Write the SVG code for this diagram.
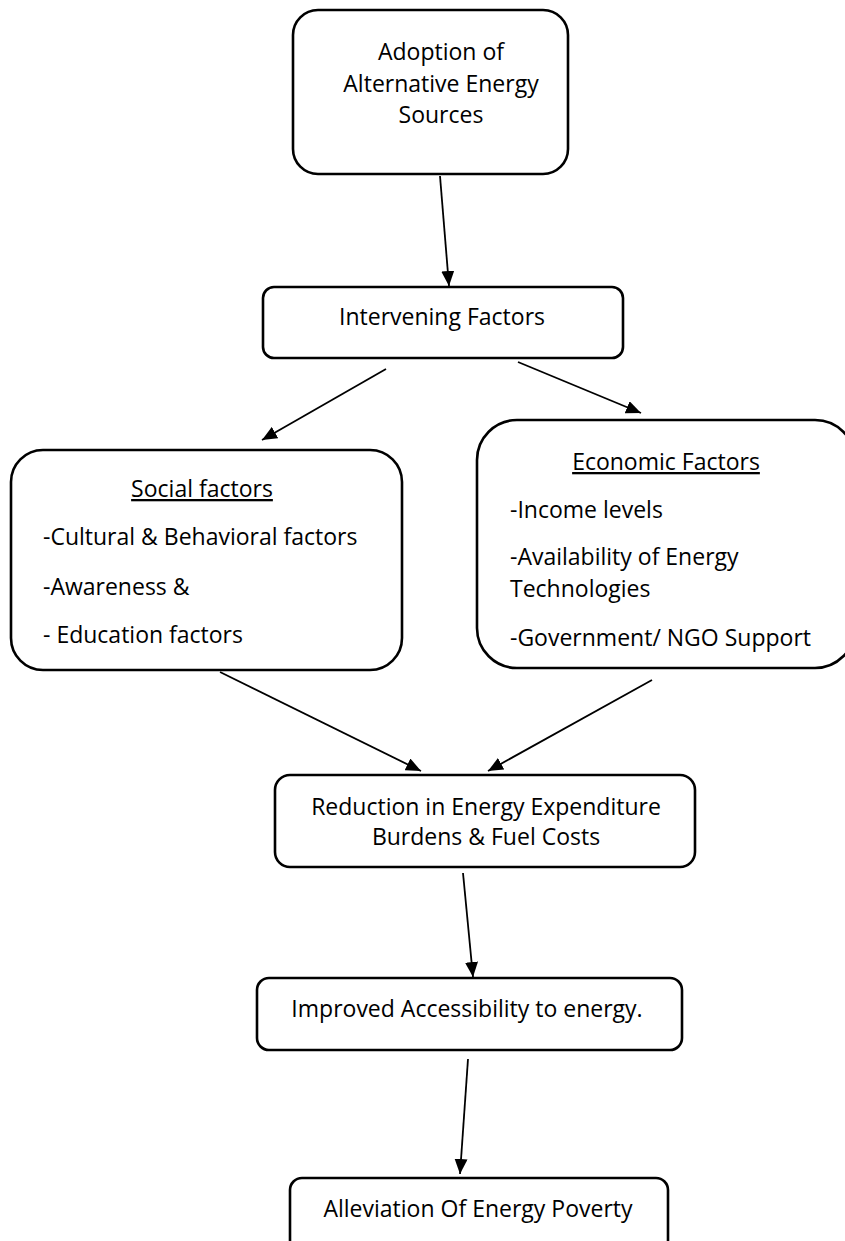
<svg xmlns="http://www.w3.org/2000/svg" width="845" height="1241" viewBox="0 0 845 1241">
  <style>
    .box { fill: #ffffff; stroke: #000000; stroke-width: 2.6; }
    .t { font-family: "Open Sans", "Noto Sans", "DejaVu Sans", sans-serif; font-size: 23px; fill: #000000; }
    .c { text-anchor: middle; }
    .u { text-decoration: underline; }
    .conn line { stroke: #000000; stroke-width: 1.8; fill: none; marker-end: url(#arrow); }
  </style>
  <defs>
    <marker id="arrow" markerUnits="userSpaceOnUse" markerWidth="15" markerHeight="13" refX="15" refY="6.5" orient="auto">
      <path d="M0,0 L15,6.5 L0,13 Z" fill="#000000"/>
    </marker>
  </defs>
  <rect width="845" height="1241" fill="#ffffff"/>

  <g id="connectors" class="conn">
    <line x1="440" y1="176" x2="449" y2="286"/>
    <line x1="386" y1="369" x2="262" y2="440"/>
    <line x1="518" y1="362" x2="641" y2="413"/>
    <line x1="220" y1="672" x2="421" y2="771"/>
    <line x1="652" y1="680" x2="488" y2="771"/>
    <line x1="463" y1="873" x2="473" y2="977"/>
    <line x1="468" y1="1059" x2="460" y2="1174"/>
  </g>

  <g id="node-adoption">
    <rect class="box" x="293" y="10" width="275" height="164" rx="25" ry="25"/>
    <text class="t c" x="441" y="60">Adoption of</text>
    <text class="t c" x="441" y="92">Alternative Energy</text>
    <text class="t c" x="441" y="123">Sources</text>
  </g>

  <g id="node-intervening">
    <rect class="box" x="263" y="287" width="360" height="71" rx="11" ry="11"/>
    <text class="t c" x="442" y="325">Intervening Factors</text>
  </g>

  <g id="node-social">
    <rect class="box" x="11" y="450" width="391" height="220" rx="32" ry="32"/>
    <text class="t c u" x="202" y="497">Social factors</text>
    <text class="t" x="43" y="545">-Cultural &amp; Behavioral factors</text>
    <text class="t" x="43" y="595">-Awareness &amp;</text>
    <text class="t" x="43" y="643">- Education factors</text>
  </g>

  <g id="node-economic">
    <rect class="box" x="477" y="420" width="378" height="248" rx="40" ry="40"/>
    <text class="t c u" x="666" y="470">Economic Factors</text>
    <text class="t" x="510" y="518">-Income levels</text>
    <text class="t" x="510" y="565">-Availability of Energy</text>
    <text class="t" x="510" y="597">Technologies</text>
    <text class="t" x="510" y="646">-Government/ NGO Support</text>
  </g>

  <g id="node-reduction">
    <rect class="box" x="275" y="775" width="420" height="92" rx="15" ry="15"/>
    <text class="t c" x="486" y="815">Reduction in Energy Expenditure</text>
    <text class="t c" x="486" y="845">Burdens &amp; Fuel Costs</text>
  </g>

  <g id="node-improved">
    <rect class="box" x="257" y="978" width="425" height="72" rx="12" ry="12"/>
    <text class="t c" x="467" y="1017">Improved Accessibility to energy.</text>
  </g>

  <g id="node-alleviation">
    <rect class="box" x="290" y="1178" width="378" height="76" rx="12" ry="12"/>
    <text class="t c" x="478" y="1217">Alleviation Of Energy Poverty</text>
  </g>
</svg>
